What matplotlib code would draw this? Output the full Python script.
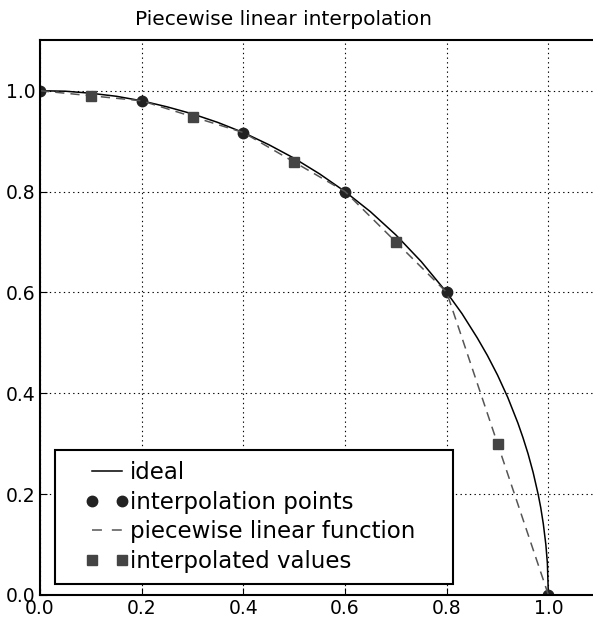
import matplotlib
matplotlib.use("Agg")
import matplotlib.pyplot as plt
from matplotlib.lines import Line2D
from matplotlib.legend_handler import HandlerLine2D

# ideal curve
x_ideal = [0.0, 0.05, 0.1, 0.15, 0.2, 0.25, 0.3, 0.35, 0.4, 0.45, 0.5, 0.55, 0.6, 0.65,
           0.7, 0.75, 0.8, 0.83, 0.86, 0.88, 0.9, 0.92, 0.94, 0.95, 0.96, 0.97, 0.98,
           0.985, 0.99, 0.995, 0.998, 1.0]
y_ideal = [1.0, 0.999, 0.995, 0.989, 0.98, 0.968, 0.954, 0.937, 0.917, 0.893, 0.866, 0.835,
           0.8, 0.76, 0.714, 0.661, 0.6, 0.558, 0.51, 0.475, 0.436, 0.392, 0.341, 0.312,
           0.28, 0.243, 0.199, 0.173, 0.141, 0.1, 0.063, 0.0]

# interpolation points
x_nodes = [0.0, 0.2, 0.4, 0.6, 0.8, 1.0]
y_nodes = [1.0, 0.98, 0.917, 0.8, 0.6, 0.0]

# interpolated values
x_interp = [0.1, 0.3, 0.5, 0.7, 0.9]
y_interp = [0.99, 0.948, 0.858, 0.7, 0.3]

ticks = [0.0, 0.2, 0.4, 0.6, 0.8, 1.0]

fig = plt.figure(figsize=(5.93, 6.17), dpi=100)
ax = fig.add_axes([0.0675, 0.0357, 0.943, 0.899])

ax.plot(x_ideal, y_ideal, "k-", lw=1.1, label="ideal")
ax.plot(x_nodes, y_nodes, "o", color="#222222", ms=7.5, label="interpolation points")
ax.plot(x_nodes, y_nodes, "--", color="#555555", lw=1.1, dashes=(6, 4), label="piecewise linear function")
ax.plot(x_interp, y_interp, "s", color="#444444", ms=7, label="interpolated values")

ax.set_xlim(0, 1.1)
ax.set_ylim(0, 1.1)
ax.set_xticks(ticks)
ax.set_yticks(ticks)
ax.tick_params(direction="in", labelsize=13.5, length=5, pad=3)
ax.grid(True, color="black", linestyle=(0, (1.2, 3)), lw=0.8)
for s in ax.spines.values():
    s.set_linewidth(1.5)
fig.text(0.478, 0.969, "Piecewise linear interpolation", fontsize=14.5, ha="center", va="center")

leg = ax.legend(loc="lower left", bbox_to_anchor=(0.0268, 0.0198, 0.712, 0.2), mode="expand",
                numpoints=2, fontsize=16.5, fancybox=False,
                edgecolor="black", framealpha=1, borderaxespad=0,
                handlelength=2.42, handletextpad=0.35, borderpad=0.5, labelspacing=0.28,
                handler_map={Line2D: HandlerLine2D(xpad=1.11, marker_pad=0, numpoints=2)})
leg.get_frame().set_linewidth(1.5)
leg.get_lines()[2].set_dashes((6.5, 6.5))

fig.savefig("out.png", dpi=100)
